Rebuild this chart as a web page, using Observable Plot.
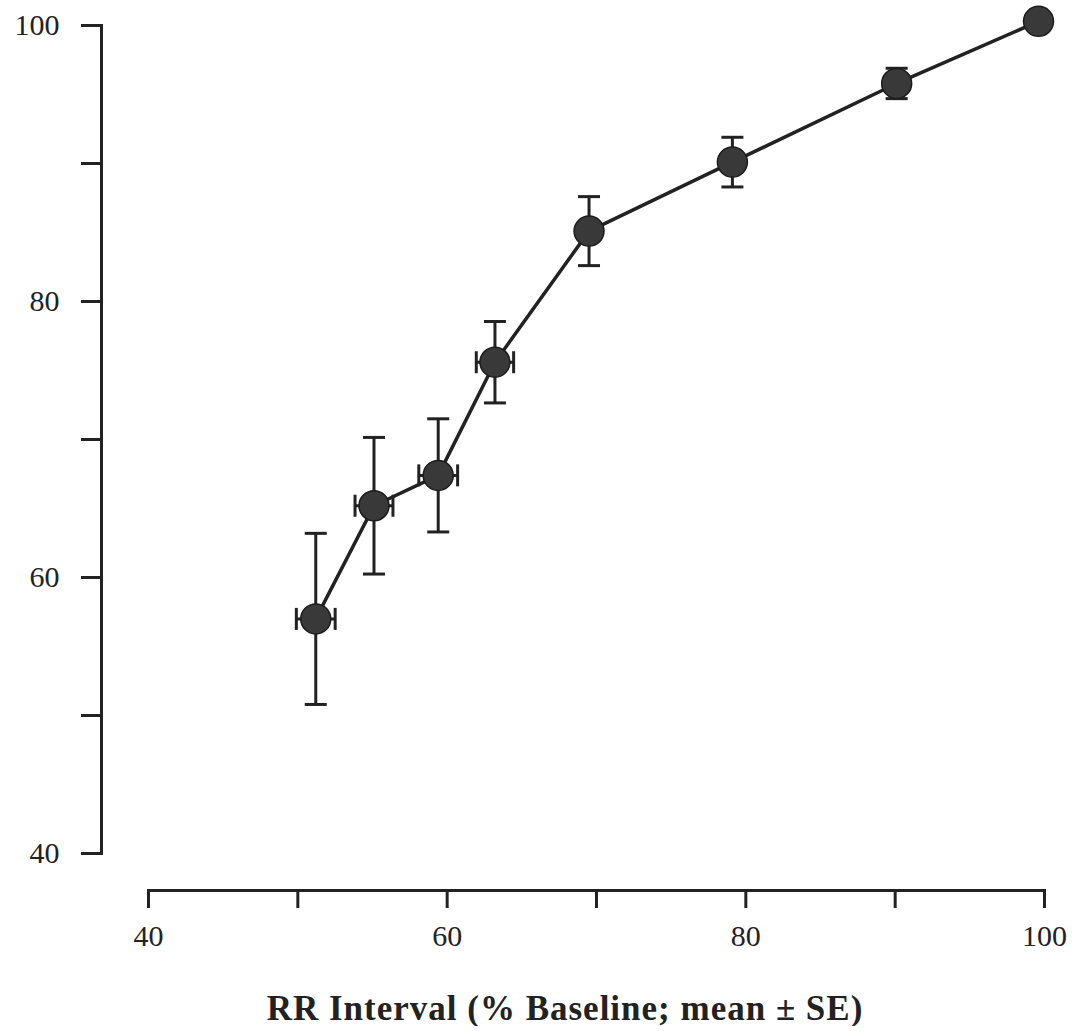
<!DOCTYPE html>
<html>
<head>
<meta charset="utf-8">
<script src="https://cdn.jsdelivr.net/npm/d3@7"></script>
<script src="https://cdn.jsdelivr.net/npm/@observablehq/plot@0.6"></script>
<style>
  body { margin: 0; background: #fff; }
  #chart { width: 1076px; height: 970px; }
  #xtitle {
    width: 1022px;
    padding-left: 54px;
    margin-top: 21px;
    text-align: center;
    font-family: "Liberation Serif", "Times New Roman", serif;
    font-weight: bold;
    font-size: 35px;
    letter-spacing: 1px;
    line-height: 35px;
    color: #222;
  }
</style>
</head>
<body>
<div id="chart"></div>
<div id="xtitle">RR Interval (% Baseline; mean ± SE)</div>
<script>
// RR interval (% of baseline), mean and standard error
const rrMean = [51.2, 55.1, 59.4, 63.2, 69.5, 79.1, 90.1, 99.6];
const rrSE   = [1.3, 1.27, 1.3, 1.25, 0.6, 0.6, 0.6, 0.5];
// Response (% of baseline), mean and standard error
const respMean = [57.0, 65.2, 67.4, 75.6, 85.1, 90.1, 95.8, 100.3];
const respSE   = [6.2, 4.95, 4.1, 2.95, 2.5, 1.8, 1.1, 0.5];

const xTicks = [40, 50, 60, 70, 80, 90, 100];
const yTicks = [40, 50, 60, 70, 80, 90, 100];
const labelEvery = 20;

const rows = rrMean.map((x, i) => ({
  x, xse: rrSE[i], y: respMean[i], yse: respSE[i]
}));

// Cap glyphs for the error bars: a short horizontal or vertical stroke
const hCap = {draw(ctx, size) { const r = Math.sqrt(size / Math.PI); ctx.moveTo(-r, 0); ctx.lineTo(r, 0); }};
const vCap = {draw(ctx, size) { const r = Math.sqrt(size / Math.PI); ctx.moveTo(0, -r); ctx.lineTo(0, r); }};

const ink = "#222";
const W = 1076, H = 970;
const frameLeft = 148, frameRight = 1044, frameTop = 25, frameBottom = 853;

const chart = Plot.plot({
  width: W,
  height: H,
  marginLeft: frameLeft,
  marginRight: W - frameRight,
  marginTop: frameTop,
  marginBottom: H - frameBottom,
  style: {fontFamily: '"Liberation Serif", "Times New Roman", serif', fontSize: "30px", color: ink, background: "#fff"},
  x: {domain: [40, 100]},
  y: {domain: [40, 100]},
  marks: [
    // offset axis lines
    Plot.frame({anchor: "left", insetLeft: -47, stroke: ink, strokeWidth: 3}),
    Plot.frame({anchor: "bottom", insetBottom: -37, stroke: ink, strokeWidth: 3}),
    Plot.axisY({
      ticks: yTicks, tickSize: 20, tickPadding: 22, dx: -47, strokeWidth: 3,
      fontSize: 30, label: null,
      tickFormat: d => d % labelEvery === 0 ? d : ""
    }),
    Plot.axisX({
      ticks: xTicks, tickSize: 18, tickPadding: 16, dy: 37, strokeWidth: 3,
      fontSize: 30, label: null,
      tickFormat: d => d % labelEvery === 0 ? d : ""
    }),
    // vertical error bars with caps
    Plot.ruleX(rows, {x: "x", y1: d => d.y - d.yse, y2: d => d.y + d.yse, stroke: ink, strokeWidth: 3}),
    Plot.dot(rows, {x: "x", y: d => d.y + d.yse, symbol: hCap, r: 11, fill: "none", stroke: ink, strokeWidth: 3}),
    Plot.dot(rows, {x: "x", y: d => d.y - d.yse, symbol: hCap, r: 11, fill: "none", stroke: ink, strokeWidth: 3}),
    // horizontal error bars with caps
    Plot.ruleY(rows, {y: "y", x1: d => d.x - d.xse, x2: d => d.x + d.xse, stroke: ink, strokeWidth: 3}),
    Plot.dot(rows, {x: d => d.x - d.xse, y: "y", symbol: vCap, r: 11, fill: "none", stroke: ink, strokeWidth: 3}),
    Plot.dot(rows, {x: d => d.x + d.xse, y: "y", symbol: vCap, r: 11, fill: "none", stroke: ink, strokeWidth: 3}),
    // connecting line and filled markers
    Plot.line(rows, {x: "x", y: "y", stroke: ink, strokeWidth: 3.5}),
    Plot.dot(rows, {x: "x", y: "y", r: 15, fill: "#393939", stroke: "#1c1c1c", strokeWidth: 1.5})
  ]
});

document.getElementById("chart").append(chart);
</script>
</body>
</html>
